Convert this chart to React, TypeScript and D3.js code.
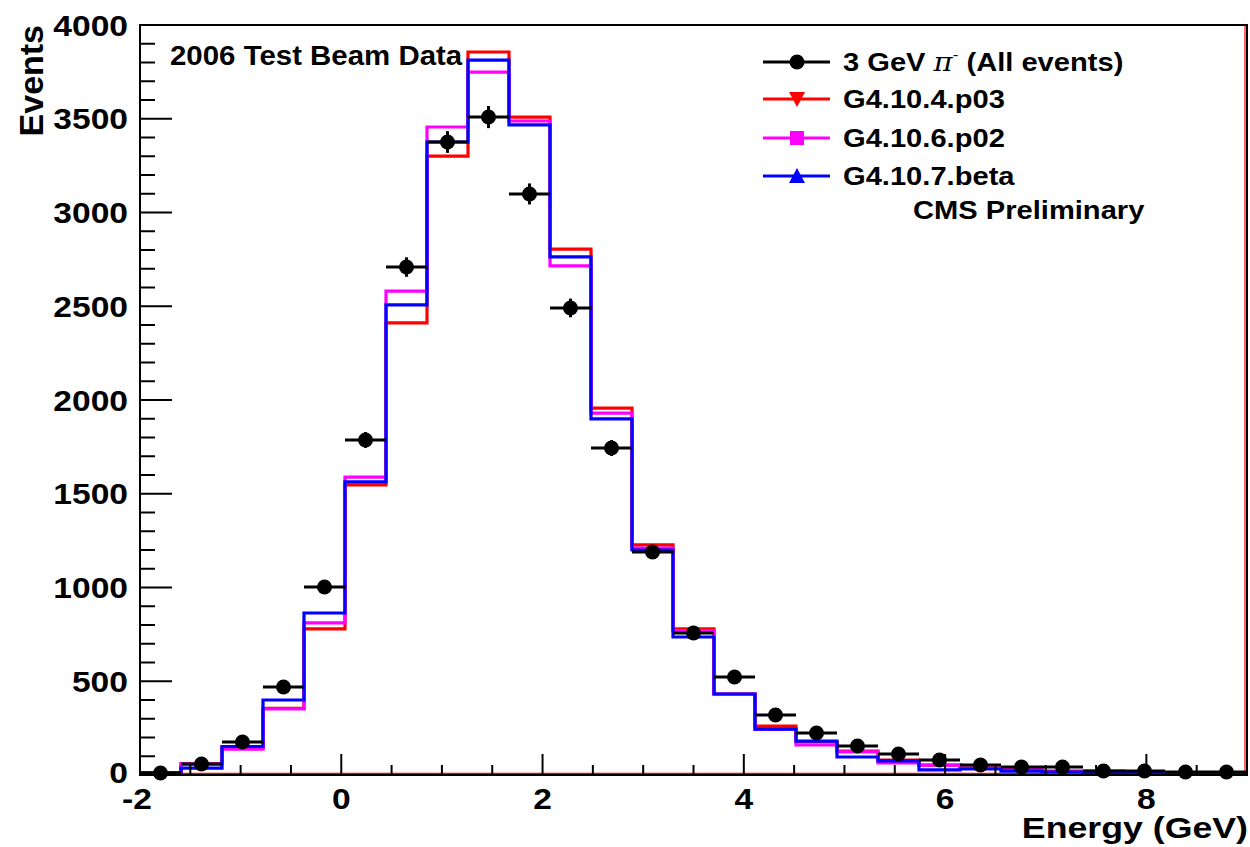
import React from "react";
import * as d3 from "d3";

// ---- data ----
const X_MIN = -2;
const X_MAX = 9;
const N_BINS = 27;
const binEdges: number[] = d3.range(N_BINS + 1).map((i) => X_MIN + (i * (X_MAX - X_MIN)) / N_BINS);

const dataCounts = [11, 59, 176, 469, 1003, 1787, 2709, 3376, 3509, 3099, 2491, 1744, 1189, 757, 523, 320, 224, 155, 112, 80, 53, 43, 43, 21, 21, 16, 16];
const dataErrors = [3, 8, 13, 22, 32, 42, 52, 58, 59, 56, 50, 42, 34, 28, 23, 18, 15, 12, 11, 9, 7, 7, 7, 5, 5, 4, 4];
const g4104 = [10, 59, 145, 355, 779, 1547, 2411, 3301, 3856, 3509, 2805, 1957, 1227, 779, 432, 261, 176, 128, 80, 53, 37, 32, 21, 21, 11, 8, 8];
const g4106 = [10, 59, 138, 352, 811, 1589, 2581, 3456, 3749, 3488, 2715, 1930, 1210, 770, 432, 245, 160, 123, 64, 53, 37, 32, 16, 16, 11, 8, 8];
const g4107 = [11, 37, 152, 400, 864, 1563, 2507, 3376, 3813, 3467, 2763, 1899, 1200, 736, 432, 245, 181, 96, 75, 27, 32, 21, 16, 11, 8, 8, 8];

const yMajorTicks = [0, 500, 1000, 1500, 2000, 2500, 3000, 3500, 4000];
const yMinorTicks = d3.range(0, 4001, 100);
const xMajorTicks = [-2, 0, 2, 4, 6, 8];
const xMinorTicks = d3.range(-2, 9.01, 0.5);

const legendLabels = ["G4.10.4.p03", "G4.10.6.p02", "G4.10.7.beta"];
const simSeries = [g4104, g4106, g4107];
const simColors = ["#ff0000", "#ff00ff", "#0000ff"];

const FONT = "'Liberation Sans', Arial, Helvetica, sans-serif";

function T(props: { x: number; y: number; size: number; sx?: number; anchor?: string; rotate?: boolean; children: any }) {
  const { x, y, size, sx = 1, anchor = "start", rotate = false, children } = props;
  return (
    <g transform={`translate(${x},${y})${rotate ? " rotate(-90)" : ""} scale(${sx},1)`}>
      <text textAnchor={anchor as any} fontSize={size} fontWeight="bold" fontFamily={FONT} fill="#000">
        {children}
      </text>
    </g>
  );
}

export default function App() {
  const W = 1250, H = 847;
  const left = 140, right = 1247, top = 25, bottom = 775;
  const x = d3.scaleLinear().domain([X_MIN, X_MAX]).range([left, right]);
  const y = d3.scaleLinear().domain([0, 4000]).range([bottom, top]);

  const stepPath = (vals: number[]) => {
    const pts: [number, number][] = [];
    vals.forEach((v, i) => {
      pts.push([x(binEdges[i]), y(v)]);
      pts.push([x(binEdges[i + 1]), y(v)]);
    });
    return d3.line()(pts) as string;
  };

  const legendY = [62, 99, 138, 176];
  const lgX0 = 763, lgX1 = 830, lgM = 797, lgT = 843;

  return (
    <svg width={W} height={H} style={{ position: "absolute", left: 0, top: 0, background: "#fff" }}>
      <rect x={0} y={0} width={W} height={H} fill="#fff" />
      {/* red baseline & right edge */}
      <line x1={left} x2={right} y1={bottom - 1.5} y2={bottom - 1.5} stroke="#ff0000" strokeWidth={1.5} />
      <line x1={right - 2} x2={right - 2} y1={top} y2={bottom} stroke="#ff0000" strokeWidth={1.2} />

      {/* histograms */}
      {simSeries.map((s, i) => (
        <path key={i} d={stepPath(s)} fill="none" stroke={simColors[i]} strokeWidth={3.2} strokeLinejoin="miter" />
      ))}

      {/* data points */}
      {dataCounts.map((v, i) => {
        const cx = x((binEdges[i] + binEdges[i + 1]) / 2);
        const cy = y(v);
        return (
          <g key={i}>
            <line x1={x(binEdges[i])} x2={x(binEdges[i + 1])} y1={cy} y2={cy} stroke="#000" strokeWidth={3} />
            <line x1={cx} x2={cx} y1={y(v - dataErrors[i])} y2={y(v + dataErrors[i])} stroke="#000" strokeWidth={3} />
            <circle cx={cx} cy={cy} r={7.5} fill="#000" />
          </g>
        );
      })}

      {/* frame */}
      <rect x={left} y={top} width={right - left} height={bottom - top} fill="none" stroke="#000" strokeWidth={2} />

      {/* y ticks */}
      {yMinorTicks.map((t) => {
        const major = t % 500 === 0;
        return <line key={t} x1={left} x2={left + (major ? 32 : 15)} y1={y(t)} y2={y(t)} stroke="#000" strokeWidth={2} />;
      })}
      {yMajorTicks.map((t) => (
        <T key={t} x={128} y={y(t) + (t === 0 ? 8 : 10.5)} size={30} sx={1.12} anchor="end">
          {String(t)}
        </T>
      ))}

      {/* x ticks */}
      {xMinorTicks.map((t) => {
        const major = Math.abs(t % 2) < 1e-6;
        return <line key={t} x1={x(t)} x2={x(t)} y1={bottom} y2={bottom - (major ? 21 : 10)} stroke="#000" strokeWidth={2} />;
      })}
      {xMajorTicks.map((t) => (
        <T key={t} x={x(t) - (t < 0 ? 3 : 0)} y={809} size={30} sx={1.12} anchor="middle">
          {String(t)}
        </T>
      ))}

      {/* axis titles */}
      <T x={43} y={25} size={33} sx={1.03} anchor="end" rotate>
        Events
      </T>
      <T x={1248} y={838} size={30} sx={1.19} anchor="end">
        Energy (GeV)
      </T>

      {/* annotations */}
      <T x={170} y={65} size={27} sx={1.09}>
        2006 Test Beam Data
      </T>

      {/* legend */}
      <line x1={lgX0} x2={lgX1} y1={legendY[0]} y2={legendY[0]} stroke="#000" strokeWidth={3} />
      <circle cx={lgM} cy={legendY[0]} r={7.5} fill="#000" />
      <g transform={`translate(${lgT},${legendY[0] + 9}) scale(1.12,1)`}>
        <text fontSize={26} fontWeight="bold" fontFamily={FONT}>
          <tspan>3 GeV </tspan>
          <tspan fontFamily="'DejaVu Serif', 'Liberation Serif', serif" fontWeight="normal" fontStyle="italic">π</tspan>
          <tspan fontSize={15} fontWeight="normal" dy={-11}>-</tspan>
          <tspan dy={11}> (All events)</tspan>
        </text>
      </g>
      {legendLabels.map((lab, i) => {
        const ly = legendY[i + 1];
        const c = simColors[i];
        let marker;
        if (i === 0) marker = <path d={`M${lgM - 8},${ly - 7}L${lgM + 8},${ly - 7}L${lgM},${ly + 8}Z`} fill={c} />;
        else if (i === 1) marker = <rect x={lgM - 7} y={ly - 7} width={14} height={14} fill={c} />;
        else marker = <path d={`M${lgM - 8},${ly + 7}L${lgM + 8},${ly + 7}L${lgM},${ly - 8}Z`} fill={c} />;
        return (
          <g key={lab}>
            <line x1={lgX0} x2={lgX1} y1={ly} y2={ly} stroke={c} strokeWidth={3} />
            {marker}
            <T x={lgT} y={ly + 9} size={26} sx={1.12}>
              {lab}
            </T>
          </g>
        );
      })}
      <T x={913} y={219} size={26} sx={1.12}>
        CMS Preliminary
      </T>
    </svg>
  );
}
